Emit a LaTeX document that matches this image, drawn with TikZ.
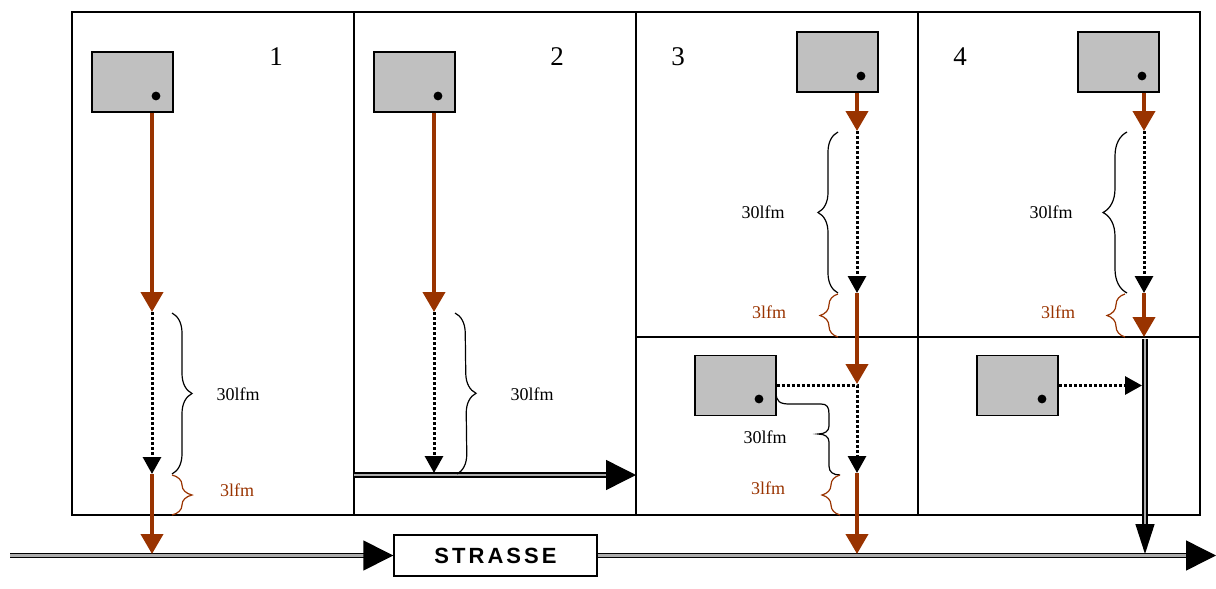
\documentclass[tikz,border=0pt]{standalone}
\usepackage{fontspec}
\setmainfont{Liberation Serif}
\newfontfamily\roadfont{Liberation Sans}[LetterSpace=14]
\usetikzlibrary{arrows.meta,decorations.pathreplacing}

\definecolor{flowred}{RGB}{153,51,0}
\definecolor{boxgray}{RGB}{192,192,192}

\tikzset{
  frame/.style={line width=0.7pt},
  box/.style={draw, line width=0.7pt, fill=boxgray, minimum width=40.5pt, minimum height=30pt, inner sep=0pt},
  flow/.style={flowred, line width=2pt, -{Triangle[length=10pt,width=11pt]}},
  air/.style={line width=1.5pt, dash pattern=on 1.5pt off 1pt, -{Triangle[length=8.5pt,width=9pt]}},
  road/.style={line width=0.7pt, double=gray!65, double distance=1.2pt, -{Triangle[length=15pt,width=#1]}},
  road/.default=15pt,
  span/.style={decorate, decoration={brace, amplitude=#1}, line width=0.6pt},
  span/.default=10pt,
  num/.style={font=\fontsize{13.5}{15}\selectfont},
  lbl/.style={font=\fontsize{9}{10}\selectfont, inner sep=0pt},
}

\begin{document}
\begin{tikzpicture}[x=0.5pt, y=-0.5pt]
  \useasboundingbox (0,0) rectangle (1216,589);

  % rooms
  \draw[frame] (72,12) rectangle (1200,515);
  \foreach \x in {354,636,918}
  {
    \draw[frame] (\x,12) -- (\x,515);
  }
  \draw[frame] (636,337) -- (1200,337);

  % street
  \node[draw, line width=0.7pt, fill=white, minimum width=101.5pt, minimum height=20.5pt, inner sep=0pt,
        font=\roadfont\bfseries\fontsize{11}{12}\selectfont] (strasse) at (495.5,555.5) {STRASSE};
  \coordinate (roadL) at (10,555.5);
  \coordinate (roadR) at (1216,555.5);
  \draw[road] (roadL) -- (strasse.west);
  \draw[road] (strasse.east) -- (roadR);

  \begin{scope}
    \node[num] (n1) at (276,57) {1};
    \node[box] (box1) at (132.5,82) {};
    \fill (156,96) circle (2.2pt);
    \coordinate (a1) at (152,312);
    \coordinate (b1) at (152,474);
    \coordinate (c1) at (152,554);
    \draw[flow] (box1.south -| a1) -- (a1);
    \draw[air] (a1) -- (b1);
    \draw[flow] (b1) -- (c1);
    \draw[span] (172,313) -- (172,474);
    \draw[span, flowred] (172,475) -- (172,515);
    \node[lbl] (l1) at (238,394) {30lfm};
    \node[lbl, flowred] (r1) at (237,490) {3lfm};
  \end{scope}

  \begin{scope}
    \node[num] (n2) at (557,57) {2};
    \node[box] (box2) at (414.5,82) {};
    \fill (438,96) circle (2.2pt);
    \coordinate (a2) at (434,312);
    \coordinate (b2) at (434,473);
    \coordinate (w2) at (354,475);
    \coordinate (e2) at (636,475);
    \draw[flow] (box2.south -| a2) -- (a2);
    \draw[air] (a2) -- (b2);
    \draw[road] (w2) -- (e2);
    \draw[span] (455,313) -- (457,474);
    \node[lbl] (l2) at (532,394) {30lfm};
  \end{scope}

  \begin{scope}
    \node[num] (n3) at (678,57) {3};
    \node[box] (box3) at (837.5,62) {};
    \fill (861,76) circle (2.2pt);
    \coordinate (a3) at (857,131);
    \coordinate (b3) at (857,293);
    \coordinate (d3) at (857,384);
    \draw[flow] (box3.south -| a3) -- (a3);
    \draw[air] (a3) -- (b3);
    \draw[flow] (b3) -- (d3);
    \draw[span] (838,293) -- (838,132);
    \draw[span=9pt, flowred] (838,337) -- (838,294);
    \node[lbl] (l3) at (763,212) {30lfm};
    \node[lbl, flowred] (r3) at (769,312) {3lfm};

    \node[box] (box5) at (735.5,385.5) {};
    \fill (759,399) circle (2.2pt);
    \coordinate (b5) at (857,473);
    \coordinate (c5) at (857,554);
    \draw[air] (box5.east) -| (b5);
    \draw[flow] (b5) -- (c5);
    \draw[line width=0.6pt] (776,392) .. controls (776,402) and (780,404) .. (790,404) -- (821,404)
      .. controls (827,404) and (829,407) .. (829,414) -- (829,426)
      .. controls (829,431) and (825,434) .. (818,434)
      .. controls (825,434) and (829,437) .. (829,442) -- (829,466)
      .. controls (829,472) and (833,475) .. (840,475);
    \draw[span=9pt, flowred] (840,515) -- (840,475);
    \node[lbl] (l5) at (765,437) {30lfm};
    \node[lbl, flowred] (r5) at (768,488) {3lfm};
  \end{scope}

  \begin{scope}
    \node[num] (n4) at (960,57) {4};
    \node[box] (box4) at (1118.5,62) {};
    \fill (1142,76) circle (2.2pt);
    \coordinate (a4) at (1144,131);
    \coordinate (b4) at (1144,293);
    \coordinate (d4) at (1144,337);
    \draw[flow] (box4.south -| a4) -- (a4);
    \draw[air] (a4) -- (b4);
    \draw[flow] (b4) -- (d4);
    \draw[span=12pt] (1127,293) -- (1127,132);
    \draw[span=9pt, flowred] (1125,337) -- (1125,294);
    \node[lbl] (l4) at (1051,212) {30lfm};
    \node[lbl, flowred] (r4) at (1058,312) {3lfm};

    \node[box] (box6) at (1017.5,385.5) {};
    \fill (1042,399) circle (2.2pt);
    \coordinate (e6) at (1142,385.5);
    \coordinate (s6) at (1145,339);
    \coordinate (t6) at (1145,554);
    \draw[air] (box6.east) -- (e6);
    \draw[road=9.5pt] (s6) -- (t6);
  \end{scope}

\end{tikzpicture}
\end{document}
